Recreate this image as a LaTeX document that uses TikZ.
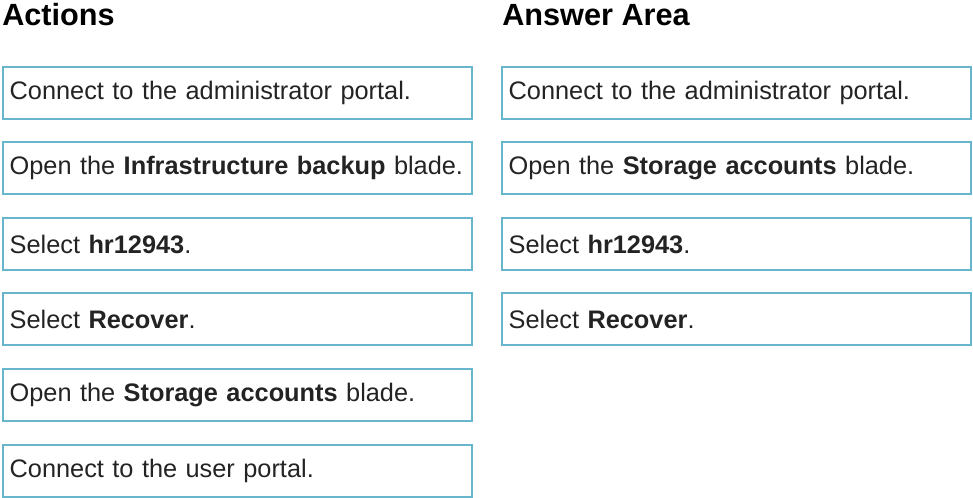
\documentclass[tikz,border=0pt]{standalone}
\usepackage{fontspec}
\setmainfont{Liberation Sans}
\usepackage{tikz}
\usetikzlibrary{positioning}
\usepackage{xcolor}
\definecolor{boxblue}{RGB}{104,182,204}
\definecolor{txtgray}{RGB}{35,35,35}

\begin{document}
\begin{tikzpicture}[x=0.75pt,y=-0.75pt,
  actionbox/.style={draw=boxblue, line width=1.5pt, anchor=north west,
    minimum width=352pt, minimum height=39pt, text width=342pt,
    inner xsep=5pt, align=left, text=txtgray,
    font=\fontsize{19}{23}\selectfont},
  heading/.style={anchor=base west, inner sep=0pt,
    font=\fontsize{23}{27}\selectfont\bfseries}]
\useasboundingbox (0,0) rectangle (973,498);

% Headings
\node[heading] (acthead) at (2,26) {Actions};
\node[heading] (anshead) at (502,26) {Answer Area};

% Actions column
\node[actionbox] (act1) at (2,66)  {Connect to the administrator portal.};
\node[actionbox] (act2) at (2,141) {Open the \textbf{Infrastructure backup} blade.};
\node[actionbox] (act3) at (2,217) {Select \textbf{hr12943}.};
\node[actionbox] (act4) at (2,292) {Select \textbf{Recover}.};
\node[actionbox] (act5) at (2,368) {Open the \textbf{Storage accounts} blade.};
\node[actionbox] (act6) at (2,444) {Connect to the user portal.};

% Answer column
\node[actionbox] (ans1) at (501,66)  {Connect to the administrator portal.};
\node[actionbox] (ans2) at (501,141) {Open the \textbf{Storage accounts} blade.};
\node[actionbox] (ans3) at (501,217) {Select \textbf{hr12943}.};
\node[actionbox] (ans4) at (501,292) {Select \textbf{Recover}.};
\end{tikzpicture}
\end{document}
